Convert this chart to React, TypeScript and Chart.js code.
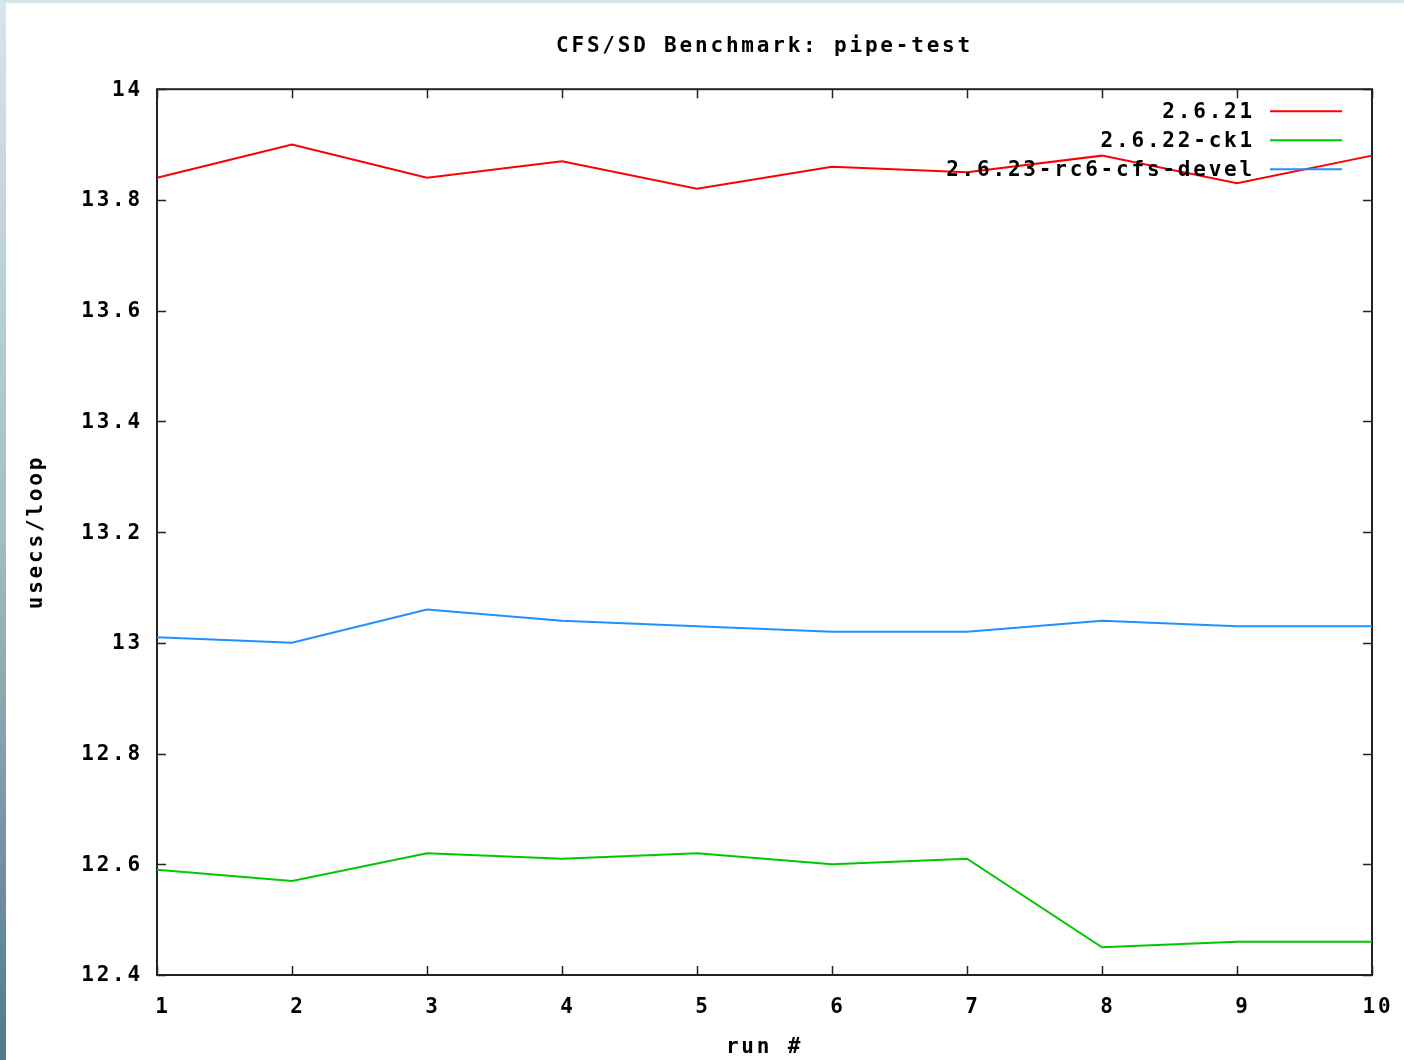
import React, { useEffect, useRef } from 'react';
import { Chart, registerables } from 'chart.js';

Chart.register(...registerables);

const runs = ['1', '2', '3', '4', '5', '6', '7', '8', '9', '10'];
const k2621 = [13.84, 13.9, 13.84, 13.87, 13.82, 13.86, 13.85, 13.88, 13.83, 13.88];
const ck1 = [12.59, 12.57, 12.62, 12.61, 12.62, 12.6, 12.61, 12.45, 12.46, 12.46];
const cfsDevel = [13.01, 13.0, 13.06, 13.04, 13.03, 13.02, 13.02, 13.04, 13.03, 13.03];
const yTicks = [12.4, 12.6, 12.8, 13, 13.2, 13.4, 13.6, 13.8, 14];
const seriesNames = ['2.6.21', '2.6.22-ck1', '2.6.23-rc6-cfs-devel'];
const seriesColors = ['#ff0000', '#00c800', '#1e90ff'];
const titleText = 'CFS/SD Benchmark: pipe-test';
const xTitle = 'run #';
const yTitle = 'usecs/loop';

const FONT_FAMILY = '"DejaVu Sans Mono", "Liberation Mono", monospace';
const SPACING = '2.8px';
const FONT_SIZE = 21;

const spacingPlugin = {
  id: 'letterSpacing',
  beforeUpdate(chart: any) { chart.ctx.letterSpacing = SPACING; },
  beforeLayout(chart: any) { chart.ctx.letterSpacing = SPACING; },
  beforeDraw(chart: any) { chart.ctx.letterSpacing = SPACING; },
};

const framePlugin = {
  id: 'frame',
  beforeDatasetsDraw(chart: any) {
    const { ctx, chartArea } = chart;
    const { left, right, top, bottom } = chartArea;
    const xs = chart.scales.x;
    const ys = chart.scales.y;
    const tl = 9;
    ctx.save();
    ctx.strokeStyle = '#222';
    ctx.lineWidth = 1.5;
    ctx.beginPath();
    runs.forEach((_, i) => {
      const px = Math.round(xs.getPixelForValue(i)) + 0.5;
      ctx.moveTo(px, bottom);
      ctx.lineTo(px, bottom - tl);
      ctx.moveTo(px, top);
      ctx.lineTo(px, top + tl);
    });
    yTicks.forEach((v) => {
      const py = Math.round(ys.getPixelForValue(v)) + 0.5;
      ctx.moveTo(left, py);
      ctx.lineTo(left + tl, py);
      ctx.moveTo(right, py);
      ctx.lineTo(right - tl, py);
    });
    ctx.stroke();
    ctx.lineWidth = 2;
    ctx.strokeRect(left, top, right - left, bottom - top);
    ctx.restore();
  },
};

const legendPlugin = {
  id: 'gnuLegend',
  afterDatasetsDraw(chart: any) {
    const { ctx, chartArea } = chart;
    ctx.save();
    ctx.letterSpacing = SPACING;
    ctx.font = `bold ${FONT_SIZE}px ${FONT_FAMILY}`;
    ctx.textAlign = 'right';
    ctx.textBaseline = 'middle';
    seriesNames.forEach((name, i) => {
      const y = chartArea.top + 22 + i * 29;
      ctx.fillStyle = '#000';
      ctx.fillText(name, chartArea.right - 117, y + 1);
      ctx.strokeStyle = seriesColors[i];
      ctx.lineWidth = 2;
      ctx.beginPath();
      ctx.moveTo(chartArea.right - 102, y);
      ctx.lineTo(chartArea.right - 30, y);
      ctx.stroke();
    });
    ctx.restore();
  },
};

export default function App() {
  const canvasRef = useRef<HTMLCanvasElement | null>(null);

  useEffect(() => {
    const canvas = canvasRef.current;
    if (!canvas) return;
    const font = { family: FONT_FAMILY, size: FONT_SIZE, weight: 'bold' as const };
    const chart = new Chart(canvas, {
      type: 'line',
      data: {
        labels: runs,
        datasets: [k2621, ck1, cfsDevel].map((d, i) => ({
          label: seriesNames[i],
          data: d,
          borderColor: seriesColors[i],
          backgroundColor: seriesColors[i],
          borderWidth: 2,
          pointRadius: 0,
          tension: 0,
          fill: false,
        })),
      },
      options: {
        responsive: false,
        animation: false,
        devicePixelRatio: 1,
        layout: { padding: { left: 0, right: 32, top: 0, bottom: 0 } },
        plugins: {
          legend: { display: false },
          tooltip: { enabled: false },
          title: {
            display: true,
            text: titleText,
            color: '#000',
            font,
            fullSize: false,
            padding: { top: 31, bottom: 30 },
          },
        },
        scales: {
          x: {
            type: 'category',
            offset: false,
            grid: { display: false },
            border: { display: false },
            ticks: { color: '#000', font, padding: 12, labelOffset: 6, maxRotation: 0, autoSkip: false },
            title: { display: true, text: xTitle, color: '#000', font, padding: { top: 0, bottom: 0 } },
            afterFit: (s: any) => { s.height = 85; s.paddingLeft = 0; s.paddingRight = 0; },
          },
          y: {
            type: 'linear',
            min: 12.4,
            max: 14,
            grid: { display: false },
            border: { display: false },
            afterBuildTicks: (s: any) => { s.ticks = yTicks.map((v) => ({ value: v })); },
            ticks: {
              color: '#000',
              font,
              padding: 6,
              labelOffset: 1,
              callback: (v: any) => String(Math.round(Number(v) * 10) / 10),
            },
            title: { display: true, text: yTitle, color: '#000', font, padding: { top: 18, bottom: 0 } },
            afterFit: (s: any) => { s.width = 151; s.paddingTop = 0; s.paddingBottom = 0; },
          },
        },
      },
      plugins: [spacingPlugin, framePlugin, legendPlugin],
    });
    return () => chart.destroy();
  }, []);

  return (
    <div
      style={{
        position: 'absolute',
        left: 0,
        top: 0,
        width: 1404,
        height: 1060,
        background: 'linear-gradient(to bottom, #d6e6ea 0%, #a4bdc6 50%, #557888 100%)',
        overflow: 'hidden',
      }}
    >
      <canvas
        ref={canvasRef}
        width={1398}
        height={1057}
        style={{ position: 'absolute', left: 6, top: 3, width: 1398, height: 1057, background: '#fff' }}
      />
    </div>
  );
}
